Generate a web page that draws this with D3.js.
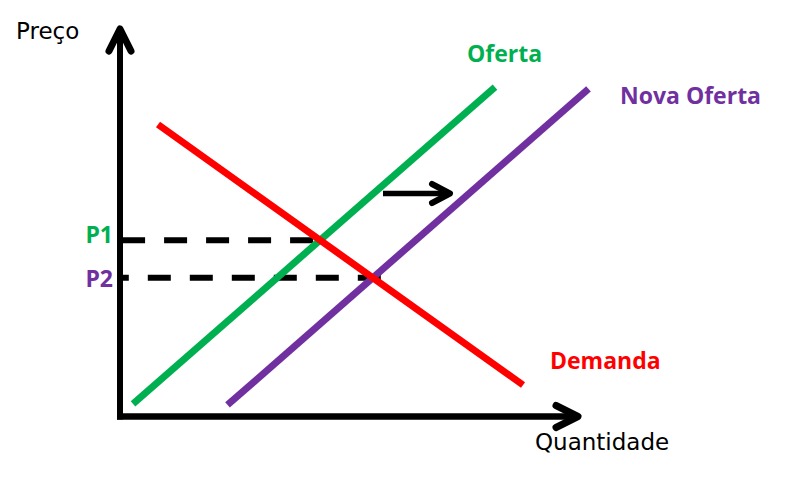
<!DOCTYPE html>
<html><head><meta charset="utf-8">
<script src="https://cdn.jsdelivr.net/npm/d3@7"></script>
<style>html,body{margin:0;padding:0;background:#fff;}</style>
</head><body>
<script>
// ---- data (in chart units: quantity 0..100, price 0..100) ----
const curveNames = ["Oferta", "Nova Oferta", "Demanda"];
const curveColors = ["#00B050", "#7030A0", "#FF0000"];
const ofertaPts = [[2.84, 3.23], [81.88, 85.03]];
const novaOfertaPts = [[23.47, 2.97], [102.29, 84.52]];
const demandaPts = [[8.30, 75.35], [88.0, 8.13]];
const shiftArrow = [[57.42, 57.55], [72.05, 57.55]];
const priceLabels = ["P1", "P2"];
const priceColors = ["#00B050", "#7030A0"];
const axisTitles = ["Preço", "Quantidade"];

const W = 785, H = 477;
const svg = d3.select("body").append("svg").attr("width", W).attr("height", H);
const x = d3.scaleLinear().domain([0, 100]).range([120, 578]);
const y = d3.scaleLinear().domain([0, 100]).range([416.5, 29]);

function intersect(a, b) {
  const [[x1, y1], [x2, y2]] = a, [[x3, y3], [x4, y4]] = b;
  const m1 = (y2 - y1) / (x2 - x1), m2 = (y4 - y3) / (x4 - x3);
  const xi = (y3 - y1 + m1 * x1 - m2 * x3) / (m1 - m2);
  return [xi, y1 + m1 * (xi - x1)];
}
const eqs = [intersect(ofertaPts, demandaPts), intersect(novaOfertaPts, demandaPts)];
const dashEndShift = [-7, 8];
const labelDy = [3, 9];

function chevron(tx, ty, dir, depth, half, sw) {
  let pts;
  if (dir === "right") pts = [[tx - depth, ty - half], [tx, ty], [tx - depth, ty + half]];
  else pts = [[tx - half, ty + depth], [tx, ty], [tx + half, ty + depth]];
  svg.append("path").attr("d", d3.line()(pts)).attr("fill", "none")
    .attr("stroke", "#000").attr("stroke-width", sw)
    .attr("stroke-linecap", "round").attr("stroke-linejoin", "round");
}

// dashed price lines (from equilibrium back to the axis)
svg.selectAll("line.dash").data(eqs).join("line").attr("class", "dash")
  .attr("x1", (d, i) => x(d[0]) + dashEndShift[i]).attr("y1", d => y(d[1]))
  .attr("x2", x(0)).attr("y2", d => y(d[1]))
  .attr("stroke", "#000").attr("stroke-width", 6)
  .attr("stroke-dasharray", "23,19");

// curves
const curves = [ofertaPts, novaOfertaPts, demandaPts];
svg.selectAll("line.curve").data(curves).join("line").attr("class", "curve")
  .attr("x1", d => x(d[0][0])).attr("y1", d => y(d[0][1]))
  .attr("x2", d => x(d[1][0])).attr("y2", d => y(d[1][1]))
  .attr("stroke", (d, i) => curveColors[i]).attr("stroke-width", 7);

// axes
svg.append("line").attr("x1", x(0)).attr("y1", y(0) + 3).attr("x2", x(0)).attr("y2", y(100))
  .attr("stroke", "#000").attr("stroke-width", 6);
svg.append("line").attr("x1", x(0) - 3).attr("y1", y(0)).attr("x2", x(100)).attr("y2", y(0))
  .attr("stroke", "#000").attr("stroke-width", 6.5);
chevron(x(0), y(100), "up", 22, 11, 7);
chevron(x(100), y(0), "right", 22, 11, 7);

// shift arrow
svg.append("line").attr("x1", x(shiftArrow[0][0])).attr("y1", y(shiftArrow[0][1]))
  .attr("x2", x(shiftArrow[1][0])).attr("y2", y(shiftArrow[1][1]))
  .attr("stroke", "#000").attr("stroke-width", 5.5);
chevron(x(shiftArrow[1][0]), y(shiftArrow[1][1]), "right", 18, 9.5, 6);

// price labels
svg.selectAll("text.plbl").data(priceLabels).join("text").attr("class", "plbl")
  .attr("x", x(0) - 7).attr("y", (d, i) => y(eqs[i][1]) + labelDy[i])
  .attr("text-anchor", "end").text(d => d)
  .attr("font-family", "'Open Sans', sans-serif").attr("font-weight", "bold")
  .attr("font-size", 23).attr("fill", (d, i) => priceColors[i]);

// axis titles
svg.append("text").attr("x", 16).attr("y", 39).text(axisTitles[0])
  .attr("font-family", "'DejaVu Sans', sans-serif").attr("font-size", 23).attr("fill", "#000");
svg.append("text").attr("x", 535).attr("y", 450).text(axisTitles[1])
  .attr("font-family", "'DejaVu Sans', sans-serif").attr("font-size", 23).attr("fill", "#000");

// curve labels
const labelPos = [[467, 62], [620, 104], [550, 369]];
svg.selectAll("text.lbl").data(curveNames).join("text").attr("class", "lbl")
  .attr("x", (d, i) => labelPos[i][0]).attr("y", (d, i) => labelPos[i][1])
  .text(d => d).attr("fill", (d, i) => curveColors[i])
  .attr("font-family", "'Open Sans', sans-serif").attr("font-weight", "bold").attr("font-size", 23);
</script>
</body></html>
